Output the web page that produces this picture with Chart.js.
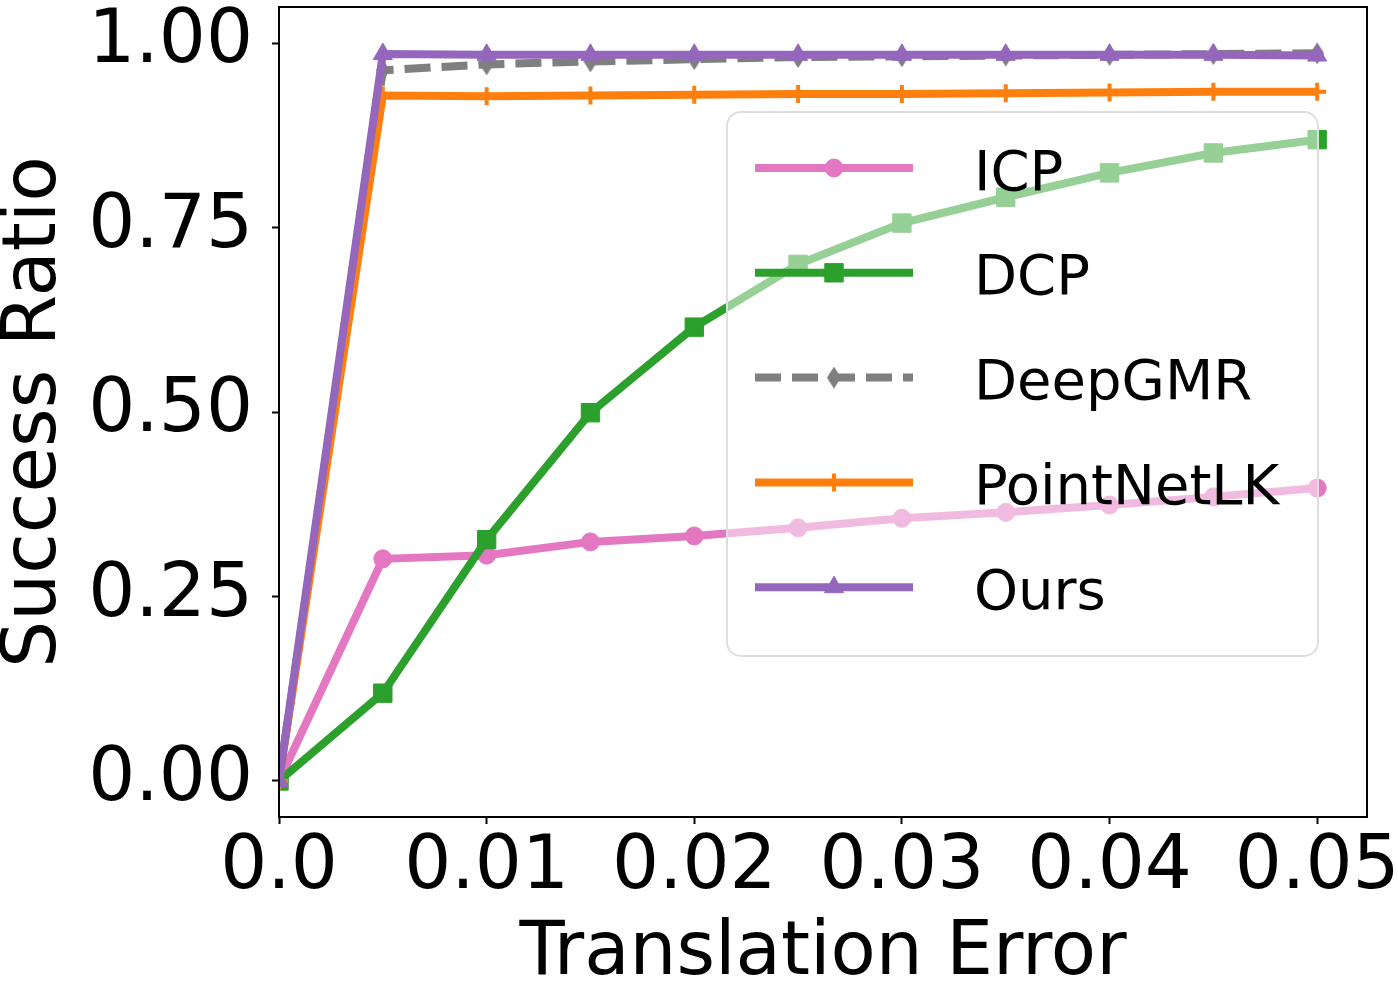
<!DOCTYPE html>
<html>
<head>
<meta charset="utf-8">
<title>Success Ratio vs Translation Error</title>
<script src="https://cdn.jsdelivr.net/npm/chart.js@4.4.1/dist/chart.umd.min.js"></script>
<style>
  html, body { margin: 0; padding: 0; background: #fff; }
  #wrap { width: 1398px; height: 996px; position: relative; }
</style>
</head>
<body>
<div id="wrap"><canvas id="chart"></canvas></div>
<script>
// translation error thresholds (x) and success ratios per method
const xValues = [0, 0.005, 0.01, 0.015, 0.02, 0.025, 0.03, 0.035, 0.04, 0.045, 0.05];
const xTickValues = [0, 0.01, 0.02, 0.03, 0.04, 0.05];
const xTickLabels = ['0.0', '0.01', '0.02', '0.03', '0.04', '0.05'];
const yTickValues = [0, 0.25, 0.5, 0.75, 1.0];
const yTickLabels = ['0.00', '0.25', '0.50', '0.75', '1.00'];

const icp        = [0, 0.301, 0.306, 0.324, 0.332, 0.343, 0.356, 0.364, 0.374, 0.385, 0.397];
const dcp        = [0, 0.119, 0.327, 0.499, 0.615, 0.700, 0.756, 0.791, 0.824, 0.851, 0.869];
const deepgmr    = [0, 0.963, 0.971, 0.975, 0.978, 0.981, 0.982, 0.983, 0.984, 0.985, 0.986];
const pointnetlk = [0, 0.929, 0.928, 0.929, 0.930, 0.931, 0.931, 0.932, 0.933, 0.934, 0.934];
const ours       = [0, 0.985, 0.984, 0.984, 0.984, 0.984, 0.984, 0.984, 0.984, 0.984, 0.983];

const FONT = 'DejaVu Sans';

// thin diamond marker (matplotlib 'd')
function thinDiamond(color) {
  let c = document.createElement('canvas');
  c.width = 16; c.height = 22;
  let g = c.getContext('2d');
  g.fillStyle = color;
  g.beginPath();
  g.moveTo(8, 0); g.lineTo(15, 11); g.lineTo(8, 22); g.lineTo(1, 11);
  g.closePath();
  g.fill();
  return c;
}

function toPoints(arr) {
  return xValues.map((x, i) => ({ x: x, y: arr[i] }));
}

function series(label, arr, color, style, radius, extra) {
  return Object.assign({
    label: label,
    data: toPoints(arr),
    borderColor: color,
    backgroundColor: color,
    borderWidth: 8,
    pointStyle: style,
    pointRadius: radius,
    pointHoverRadius: radius,
    pointBackgroundColor: color,
    pointBorderColor: color,
    pointBorderWidth: 1,
    tension: 0,
    fill: false,
    clip: 0
  }, extra || {});
}

const datasets = [
  series('ICP', icp, '#e377c2', 'circle', 9, { order: 5 }),
  series('DCP', dcp, '#2ca02c', 'rect', 13, { order: 4 }),
  series('DeepGMR', deepgmr, '#7f7f7f', thinDiamond('#7f7f7f'), 10, { order: 3, borderDash: [26, 11] }),
  series('PointNetLK', pointnetlk, '#ff7f0e', 'cross', 9, { order: 2, pointBorderWidth: 4 }),
  series('Ours', ours, '#9467bd', 'triangle', 11, { order: 1 })
];

function drawMarker(ctx, ds, x, y) {
  ctx.fillStyle = ds.pointBackgroundColor;
  ctx.strokeStyle = ds.pointBorderColor;
  ctx.lineWidth = ds.pointBorderWidth;
  ctx.setLineDash([]);
  Chart.helpers.drawPoint(ctx, {
    pointStyle: ds.pointStyle,
    rotation: 0,
    radius: ds.pointRadius,
    borderWidth: ds.pointBorderWidth
  }, x, y);
}

// legend drawn inside the axes, over the lines, semi transparent like matplotlib
const legendBox = {
  id: 'legendBox',
  afterDatasetsDraw(chart) {
    const ctx = chart.ctx;
    const a = chart.chartArea;
    const bx = a.left + 448, by = a.top + 105, bw = 591, bh = 544;
    ctx.save();
    ctx.beginPath();
    ctx.roundRect(bx, by, bw, bh, 14);
    ctx.fillStyle = 'rgba(255,255,255,0.5)';
    ctx.fill();
    ctx.lineWidth = 2;
    ctx.strokeStyle = '#dedede';
    ctx.stroke();

    chart.data.datasets.forEach((ds, i) => {
      const y = by + 56 + i * 104.8;
      ctx.beginPath();
      ctx.strokeStyle = ds.borderColor;
      ctx.lineWidth = ds.borderWidth;
      ctx.setLineDash(ds.borderDash || []);
      ctx.moveTo(bx + 28, y);
      ctx.lineTo(bx + 186, y);
      ctx.stroke();
      drawMarker(ctx, ds, bx + 107, y);

      ctx.fillStyle = '#000';
      ctx.font = '56px "' + FONT + '"';
      ctx.textBaseline = 'middle';
      ctx.textAlign = 'left';
      ctx.fillText(ds.label, bx + 247, y + 7);
    });
    ctx.restore();
  }
};

// full box frame around the axes
const frame = {
  id: 'frame',
  afterDraw(chart) {
    const ctx = chart.ctx;
    const a = chart.chartArea;
    ctx.save();
    ctx.strokeStyle = '#000';
    ctx.lineWidth = 2;
    ctx.strokeRect(a.left, a.top, a.right - a.left, a.bottom - a.top);
    ctx.restore();
  }
};

new Chart(document.getElementById('chart'), {
  type: 'line',
  data: { datasets: datasets },
  options: {
    responsive: true,
    maintainAspectRatio: false,
    animation: false,
    layout: { autoPadding: false, padding: { left: 0, top: 7, right: 31, bottom: 0 } },
    plugins: {
      legend: { display: false },
      tooltip: { enabled: false }
    },
    scales: {
      x: {
        type: 'linear',
        min: 0,
        max: 0.0524,
        afterBuildTicks: s => { s.ticks = xTickValues.map(v => ({ value: v })); },
        afterFit: s => { s.height = 179; s.paddingLeft = 0; s.paddingRight = 0; },
        ticks: {
          autoSkip: false,
          maxRotation: 0,
          padding: 0,
          color: '#000',
          font: { family: FONT, size: 74 },
          callback: (v, i) => xTickLabels[i]
        },
        grid: { drawOnChartArea: false, drawTicks: true, tickLength: 7, tickWidth: 2, tickColor: '#000' },
        border: { display: false },
        title: {
          display: true,
          text: 'Translation Error',
          color: '#000',
          font: { family: FONT, size: 74, lineHeight: 1 },
          padding: { top: 0, bottom: 4 }
        }
      },
      y: {
        type: 'linear',
        min: -0.0488,
        max: 1.0488,
        afterBuildTicks: s => { s.ticks = yTickValues.map(v => ({ value: v })); },
        afterFit: s => { s.width = 279; s.paddingTop = 0; s.paddingBottom = 0; },
        ticks: {
          padding: 19,
          color: '#000',
          font: { family: FONT, size: 74 },
          callback: (v, i) => yTickLabels[i]
        },
        grid: { drawOnChartArea: false, drawTicks: true, tickLength: 7, tickWidth: 2, tickColor: '#000' },
        border: { display: false },
        title: {
          display: true,
          text: 'Success Ratio',
          color: '#000',
          font: { family: FONT, size: 74, lineHeight: 1 },
          padding: { top: -1, bottom: 0 }
        }
      }
    }
  },
  plugins: [legendBox, frame]
});
</script>
</body>
</html>
